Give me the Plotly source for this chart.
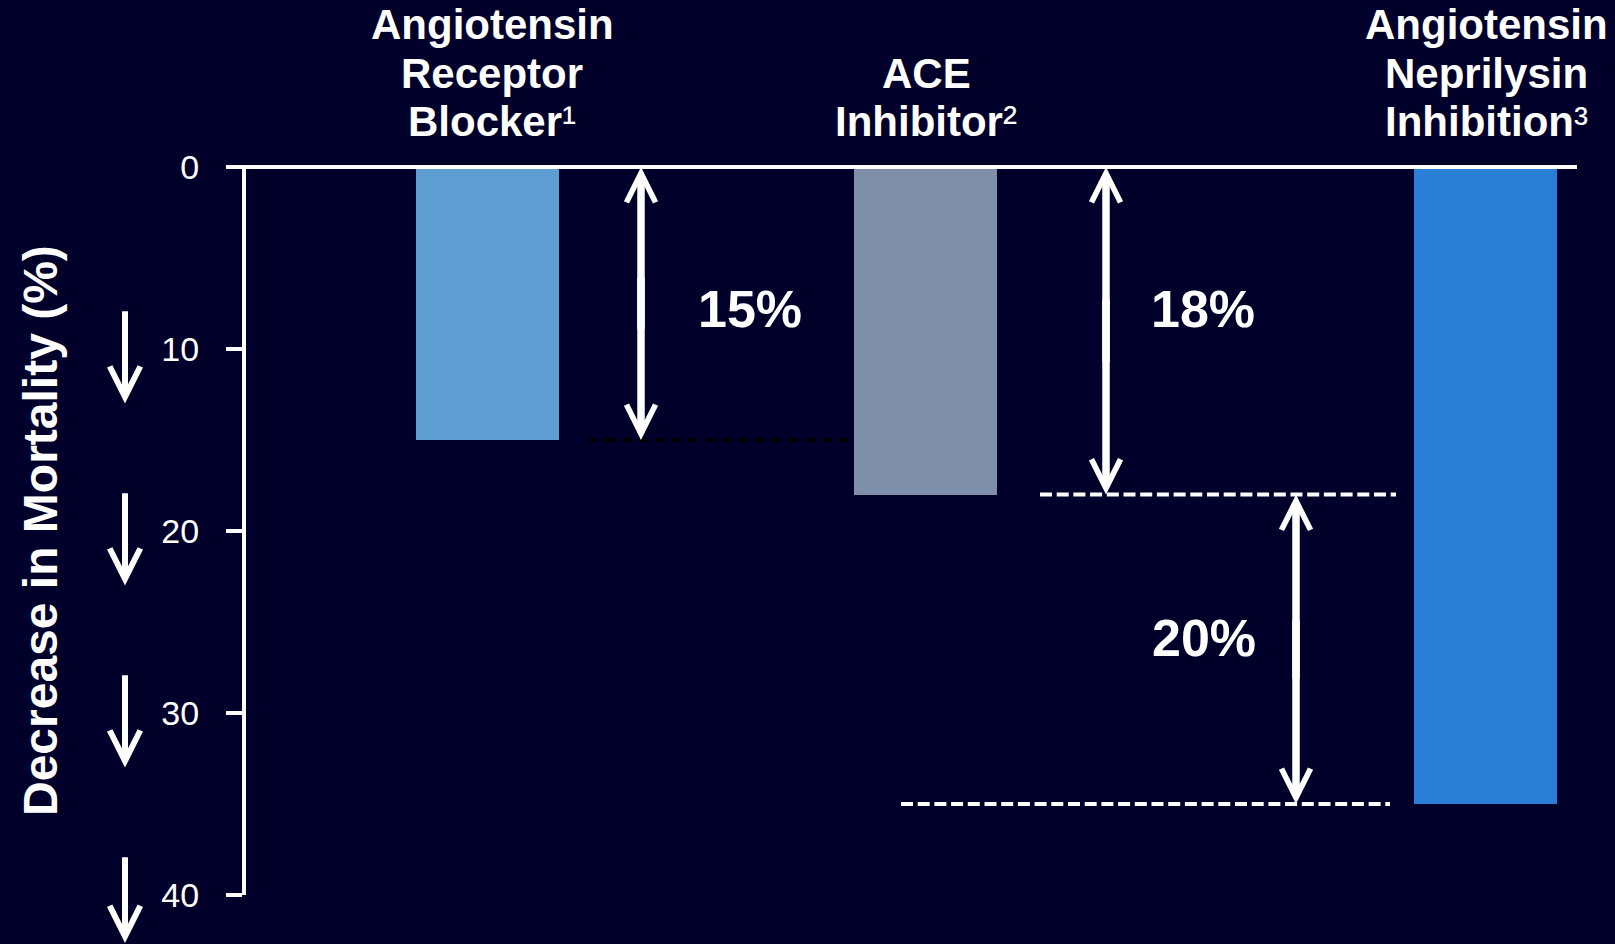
import plotly.graph_objects as go

# ---- data -------------------------------------------------------------
categories = ["Angiotensin Receptor Blocker", "ACE Inhibitor", "Angiotensin Neprilysin Inhibition"]
SUP = "<span style='font-weight:normal'>{}</span>"
label_lines = [
    ["Angiotensin", "Receptor", "Blocker" + SUP.format("¹")],
    ["ACE", "Inhibitor" + SUP.format("²")],
    ["Angiotensin", "Neprilysin", "Inhibition" + SUP.format("³")],
]
mortality_decrease = [15, 18, 35]          # % decrease in mortality
step_labels = ["15%", "18%", "20%"]
step_from = [0, 0, 18]                      # arrow spans (start, end) in %
step_to = [15, 18, 35]
y_ticks = [0, 10, 20, 30, 40]

# ---- layout / styling -------------------------------------------------
W, H = 1615, 944
M_L, M_R, M_T, M_B = 246, 38, 167, 49
PLOT_W = W - M_L - M_R
PLOT_H = H - M_T - M_B
Y_MAX = 40
PX_PER_UNIT = PLOT_H / Y_MAX
X_MAX = PLOT_W / 100.0                      # x axis in 100-px units

BG = "#01002B"
WHITE = "#FFFFFF"
FONT = "Liberation Sans, Arial, sans-serif"
bar_colors = ["#5F9ED3", "#7F8FA9", "#2B7ED6"]
bar_pos = [2.415, 6.79, 12.39]
bar_width = 1.43
label_pos = [2.46, 6.80, 12.40]

arrow_x = [3.95, 8.60, 10.50]
step_label_pos = [(5.04, 7.8), (9.57, 7.8), (9.58, 25.9)]

# dashed reference lines: (x0, x1, y, colour, dash, width)
dash_lines = [
    (3.42, 6.01, step_to[0], "#000000", "10px,6.7px", 3.5),
    (7.94, 11.50, step_to[1], WHITE, "12px,4.7px", 4),
    (6.55, 11.44, step_to[2], WHITE, "12px,4.7px", 4),
]

fig = go.Figure()

fig.add_trace(go.Bar(
    x=bar_pos,
    y=mortality_decrease,
    width=bar_width,
    marker=dict(color=bar_colors, line=dict(width=0)),
    hovertext=categories,
    showlegend=False,
))

annotations = []

# category labels above each bar, one annotation per line (bottom aligned)
line_gap = 48.5
base_shift = 20
for pos, lines in zip(label_pos, label_lines):
    n = len(lines)
    for i, txt in enumerate(lines):
        annotations.append(dict(
            x=pos, xref="x", y=1, yref="paper",
            yanchor="bottom", xanchor="center",
            yshift=base_shift + (n - 1 - i) * line_gap,
            text=txt, showarrow=False,
            font=dict(family=FONT, size=42, color=WHITE, weight="bold"),
        ))

# y-axis title
annotations.append(dict(
    x=(40 - M_L) / PLOT_W, xref="paper", y=0.5, yref="paper",
    xanchor="center", yanchor="middle", textangle=-90,
    text="Decrease in Mortality (%)", showarrow=False,
    font=dict(family=FONT, size=48, color=WHITE, weight="bold"),
))

# percentage labels
for txt, (lx, ly) in zip(step_labels, step_label_pos):
    annotations.append(dict(
        x=lx, xref="x", y=ly, yref="y",
        xanchor="center", yanchor="middle",
        text=txt, showarrow=False,
        font=dict(family=FONT, size=52, color=WHITE, weight="bold"),
    ))

# double-headed arrows: two overlapping halves, one head each
for ax_x, y0, y1 in zip(arrow_x, step_from, step_to):
    mid = (y0 + y1) / 2
    overlap = (y1 - y0) * 0.1
    for end, tail in ((y0, mid + overlap), (y1, mid - overlap)):
        annotations.append(dict(
            x=ax_x, xref="x", y=end, yref="y",
            ax=ax_x, axref="x", ay=tail, ayref="y",
            text="", showarrow=True,
            arrowhead=5, arrowsize=0.76, arrowwidth=7.5, arrowcolor=WHITE,
            standoff=0, startstandoff=0,
        ))

# decorative down arrows beside the axis
def yfrac(v):
    return 1 - v / Y_MAX

for k in range(4):
    tail = 7.85 + 10 * k
    tip = 13.0 + 10 * k
    annotations.append(dict(
        x=(125 - M_L) / PLOT_W, xref="paper",
        y=yfrac(tip), yref="paper",
        ax=0, ay=-(tip - tail) * PX_PER_UNIT,
        text="", showarrow=True,
        arrowhead=5, arrowsize=1.0, arrowwidth=6, arrowcolor=WHITE,
        standoff=0,
    ))

shapes = []
# horizontal zero line along the top, joined to the 0 tick
shapes.append(dict(
    type="line", xref="paper", yref="paper",
    x0=(226 - M_L) / PLOT_W, x1=1.0, y0=1, y1=1,
    line=dict(color=WHITE, width=4),
))
for x0, x1, yv, col, dash, lw in dash_lines:
    shapes.append(dict(
        type="line", xref="x", yref="y",
        x0=x0, x1=x1, y0=yv, y1=yv,
        line=dict(color=col, width=lw, dash=dash),
    ))

fig.update_layout(
    width=W, height=H,
    margin=dict(l=M_L, r=M_R, t=M_T, b=M_B, pad=0),
    paper_bgcolor=BG, plot_bgcolor=BG,
    xaxis=dict(range=[0, X_MAX], visible=False, fixedrange=True),
    yaxis=dict(
        range=[Y_MAX, 0],
        tickvals=y_ticks, ticktext=[str(t) for t in y_ticks],
        showgrid=False, zeroline=False,
        showline=True, linecolor=WHITE, linewidth=4,
        ticks="outside", ticklen=16, tickwidth=4, tickcolor=WHITE,
        tickfont=dict(family=FONT, size=34, color=WHITE),
        ticklabelstandoff=20,
        fixedrange=True,
    ),
    annotations=annotations,
    shapes=shapes,
    bargap=0,
)

fig.write_html("out.html")
